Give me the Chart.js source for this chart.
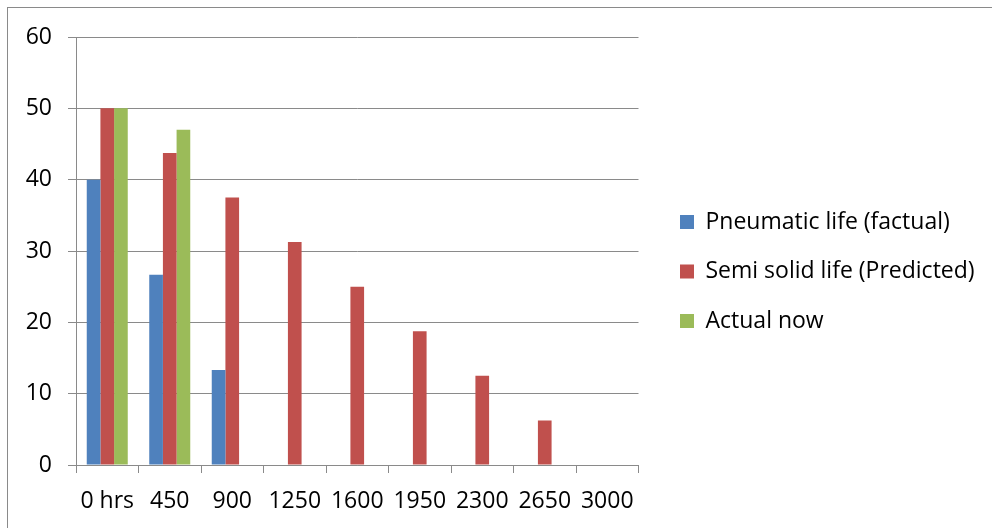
<!DOCTYPE html>
<html>
<head>
<meta charset="utf-8">
<script src="https://cdn.jsdelivr.net/npm/chart.js@4.4.0/dist/chart.umd.min.js"></script>
<style>
  html, body { margin: 0; padding: 0; background: #fff; }
  #wrap { position: relative; width: 992px; height: 528px; overflow: hidden; }
  #frame { position: absolute; left: 7px; top: 7px; width: 1000px; height: 540px;
           border-left: 1px solid #8a8a8a; border-top: 1px solid #8a8a8a; }
  #c { position: absolute; left: 0; top: 0; }
</style>
</head>
<body>
<div id="wrap">
  <div id="frame"></div>
  <canvas id="c" width="992" height="528"></canvas>
</div>
<script>
// ── data ──
const categories = ['0 hrs', '450', '900', '1250', '1600', '1950', '2300', '2650', '3000'];
const pneumatic  = [40, 26.67, 13.33, 0, 0, 0, 0, 0, 0];
const semiSolid  = [50, 43.75, 37.5, 31.25, 25, 18.75, 12.5, 6.25, 0];
const actualNow  = [50, 47, null, null, null, null, null, null, null];
const seriesNames = ['Pneumatic life (factual)', 'Semi solid life (Predicted)', 'Actual now'];
const yTicks = [0, 10, 20, 30, 40, 50, 60];

const GRID = '#8a8a8a';
Chart.defaults.font.family = "'Open Sans', sans-serif";
Chart.defaults.color = '#000';

// legend: fixed width so the plot ends where Excel put it, then nudge it right/up a bit
const legendSpot = {
  id: 'legendSpot',
  afterInit(chart) {
    const lg = chart.legend;
    const fit = lg.fit;
    lg.fit = function () { fit.call(this); this.width = 353.5; };
  },
  afterLayout(chart) {
    const lg = chart.legend;
    lg.left += 15;
    lg.top -= 11;
    lg.bottom -= 11;
  }
};

new Chart(document.getElementById('c'), {
  type: 'bar',
  data: {
    labels: categories,
    datasets: [
      { label: seriesNames[0], data: pneumatic, backgroundColor: '#4f81bd' },
      { label: seriesNames[1], data: semiSolid, backgroundColor: '#c0504d' },
      { label: seriesNames[2], data: actualNow, backgroundColor: '#9bbb59' }
    ]
  },
  plugins: [legendSpot],
  options: {
    responsive: false,
    animation: false,
    layout: { padding: { top: 37, left: 0, right: 0, bottom: 0 } },
    datasets: { bar: { categoryPercentage: 0.656, barPercentage: 1, borderWidth: 0 } },
    plugins: {
      tooltip: { enabled: false },
      legend: {
        position: 'right',
        labels: {
          boxWidth: 14, boxHeight: 14, padding: 26.5,
          font: { size: 23 }, color: '#000'
        }
      }
    },
    scales: {
      x: {
        grid: { offset: true, drawOnChartArea: false, color: GRID, tickLength: 8 },
        border: { color: GRID },
        ticks: { font: { size: 23 }, padding: 15, maxRotation: 0, autoSkip: false },
        afterFit: s => { s.height = 63; }
      },
      y: {
        min: 0, max: 60,
        afterBuildTicks: s => { s.ticks = yTicks.map(v => ({ value: v })); },
        grid: { color: GRID, tickLength: 8 },
        border: { color: GRID },
        ticks: { font: { size: 23 }, padding: 16 },
        afterFit: s => { s.width = 76; }
      }
    }
  }
});
</script>
</body>
</html>
